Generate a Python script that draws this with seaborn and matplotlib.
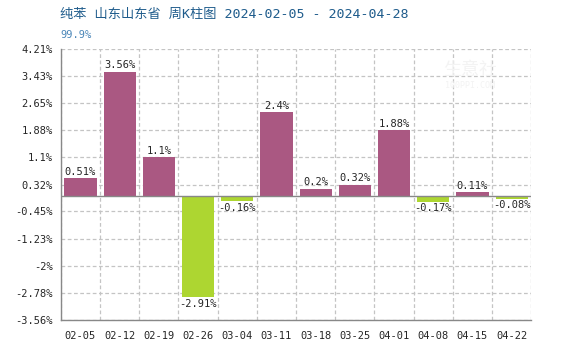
import matplotlib
matplotlib.use("Agg")
import matplotlib.pyplot as plt
import seaborn as sns
import pandas as pd

weeks = ["02-05", "02-12", "02-19", "02-26", "03-04", "03-11",
         "03-18", "03-25", "04-01", "04-08", "04-15", "04-22"]
changes = [0.51, 3.56, 1.1, -2.91, -0.16, 2.4, 0.2, 0.32, 1.88, -0.17, 0.11, -0.08]
ytick_values = [4.21, 3.43, 2.65, 1.88, 1.1, 0.32, -0.45, -1.23, -2, -2.78, -3.56]
title_text = "纯苯 山东山东省 周K柱图 2024-02-05 - 2024-04-28"
subtitle_text = "99.9%"

UP = "#AA5882"
DOWN = "#ADD631"
GRID = "#C4C4C4"
AXIS = "#888888"

sns.set_style("white")
plt.rcParams["font.family"] = ["DejaVu Sans Mono", "Noto Sans CJK SC"]

df = pd.DataFrame({"week": weeks, "change": changes})
df["dir"] = ["up" if v >= 0 else "down" for v in changes]

fig = plt.figure(figsize=(5.8, 3.5), dpi=100)
ax = fig.add_axes([0.105, 0.086, 0.811, 0.774])

sns.barplot(data=df, x="week", y="change", hue="dir",
            palette={"up": UP, "down": DOWN}, dodge=False, saturation=1,
            width=0.82, linewidth=0, legend=False, ax=ax, zorder=3)

ax.set_ylim(min(ytick_values), max(ytick_values))
ax.set_xlim(-0.5, len(weeks) - 0.5)
ax.set_yticks(ytick_values)
ax.set_yticklabels([f"{v:g}%" for v in ytick_values], fontsize=7.5)
ax.tick_params(axis="x", labelsize=7.5, length=0, pad=8)
ax.tick_params(axis="y", length=0, pad=6)
ax.set_xlabel("")
ax.set_ylabel("")

# dashed grid: horizontal at ticks, vertical at category boundaries
for y in ytick_values:
    ax.axhline(y, color=GRID, lw=0.9, ls=(0, (3, 2)), zorder=1)
for i in range(len(weeks) + 1):
    ax.axvline(i - 0.5, color=GRID, lw=0.9, ls=(0, (3, 2)), zorder=1)
ax.axhline(0, color=AXIS, lw=1.0, zorder=4)

for s in ["top", "right"]:
    ax.spines[s].set_visible(False)
for s in ["left", "bottom"]:
    ax.spines[s].set_color(AXIS)
    ax.spines[s].set_linewidth(1.0)
    ax.spines[s].set_zorder(5)

# value labels
for i, v in enumerate(changes):
    if v >= 0:
        ax.annotate(f"{v:g}%", (i, v), xytext=(0, 1), textcoords="offset points",
                    ha="center", va="bottom", fontsize=7.5, zorder=6)
    else:
        ax.annotate(f"{v:g}%", (i, v), xytext=(0, -1), textcoords="offset points",
                    ha="center", va="top", fontsize=7.5, zorder=6)

# faint watermark
fig.text(0.81, 0.80, "生意社", fontsize=13, color="#F3F3F3",
         family=["Noto Sans CJK SC"], ha="center", va="center", zorder=0)
fig.text(0.81, 0.755, "100PPI.COM", fontsize=6, color="#F3F3F3",
         ha="center", va="center", zorder=0)

fig.text(60 / 580, 1 - 14 / 350, title_text, fontsize=9.5, color="#1F5C8C",
         family=["DejaVu Sans Mono", "Noto Sans CJK SC"], ha="left", va="center")
fig.text(60 / 580, 1 - 35 / 350, subtitle_text, fontsize=7.5, color="#4A86B8",
         ha="left", va="center")

fig.savefig("out.png", dpi=100)
